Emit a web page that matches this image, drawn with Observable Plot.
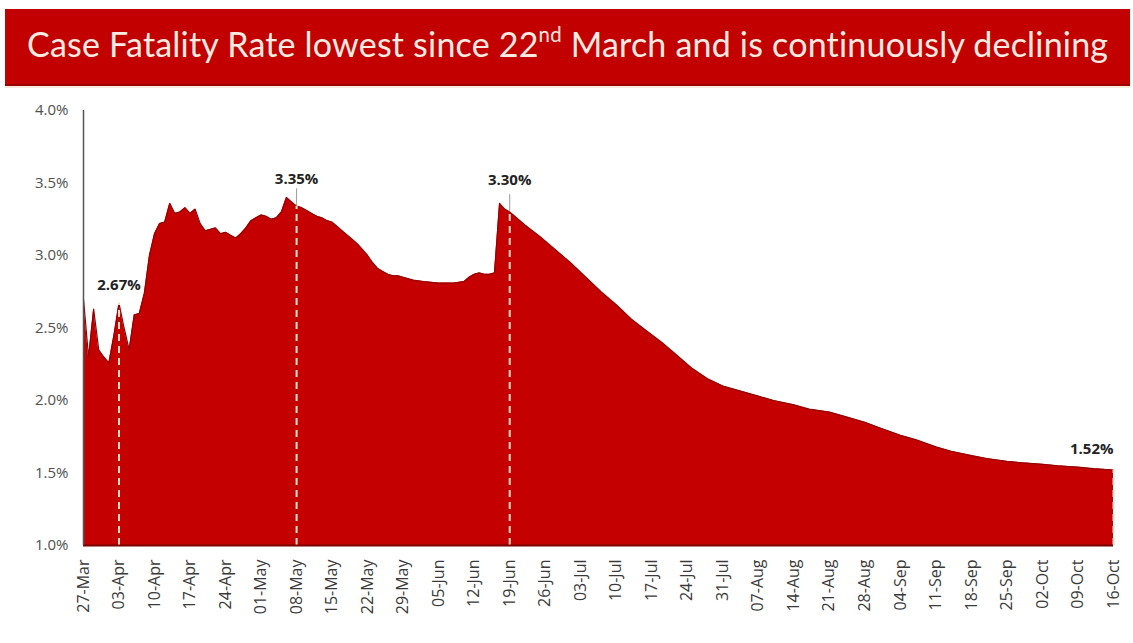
<!DOCTYPE html>
<html>
<head>
<meta charset="utf-8">
<script src="https://cdn.jsdelivr.net/npm/d3@7"></script>
<script src="https://cdn.jsdelivr.net/npm/@observablehq/plot@0.6"></script>
<style>
  html, body { margin: 0; padding: 0; background: #ffffff; }
  body { width: 1133px; height: 643px; overflow: hidden; position: relative; font-family: "Open Sans", sans-serif; }
  #title {
    position: absolute; left: 5px; top: 9px; width: 1125px; height: 75px;
    background: #c20000; border-bottom: 2px solid #9c0000;
    box-shadow: 0 2px 0 #f7e8dc;
  }
  #title span {
    position: absolute; left: 22px; top: 14px; color: #fcebe3;
    font-family: Lato, "Open Sans", sans-serif; font-size: 31px; white-space: nowrap;
    letter-spacing: 0.2px;
  }
  #title sup { font-size: 0.6em; vertical-align: 0.72em; line-height: 0; }
  #chart { position: absolute; left: 0; top: 90px; }
</style>
</head>
<body>
<div id="title"><span id="ttext">Case Fatality Rate lowest since 22<sup>nd</sup> March and is continuously declining</span></div>
<div id="chart"></div>
<script>
// ---- Data (Case Fatality Rate, %) ----
const dates = [
  "27-Mar","28-Mar","29-Mar","30-Mar","31-Mar","01-Apr","02-Apr","03-Apr","04-Apr","05-Apr",
  "06-Apr","07-Apr","08-Apr","09-Apr","10-Apr","11-Apr","12-Apr","13-Apr","14-Apr","15-Apr",
  "16-Apr","17-Apr","18-Apr","19-Apr","20-Apr","21-Apr","22-Apr","23-Apr","24-Apr","25-Apr",
  "26-Apr","27-Apr","28-Apr","29-Apr","30-Apr","01-May","02-May","03-May","04-May","05-May",
  "06-May","07-May","08-May","09-May","10-May","11-May","12-May","13-May","14-May","15-May",
  "16-May","17-May","18-May","19-May","20-May","21-May","22-May","23-May","24-May","25-May",
  "26-May","27-May","28-May","29-May","31-May","02-Jun","05-Jun","08-Jun","10-Jun","11-Jun",
  "12-Jun","13-Jun","14-Jun","15-Jun","16-Jun","17-Jun","18-Jun","19-Jun","22-Jun","25-Jun",
  "28-Jun","01-Jul","04-Jul","07-Jul","10-Jul","13-Jul","16-Jul","19-Jul","22-Jul","25-Jul",
  "28-Jul","31-Jul","04-Aug","07-Aug","10-Aug","14-Aug","17-Aug","21-Aug","24-Aug","28-Aug",
  "31-Aug","04-Sep","07-Sep","11-Sep","14-Sep","18-Sep","21-Sep","25-Sep","28-Sep","02-Oct",
  "05-Oct","09-Oct","12-Oct","16-Oct"
];
const cfr = [
  2.70,2.30,2.63,2.35,2.30,2.26,2.45,2.67,2.50,2.35,
  2.59,2.60,2.74,3.00,3.15,3.22,3.23,3.36,3.29,3.30,
  3.33,3.29,3.32,3.22,3.17,3.18,3.19,3.15,3.16,3.14,
  3.12,3.15,3.19,3.24,3.26,3.28,3.27,3.25,3.26,3.30,
  3.40,3.37,3.34,3.33,3.31,3.29,3.27,3.26,3.24,3.23,
  3.20,3.17,3.14,3.11,3.08,3.04,3.00,2.95,2.91,2.89,
  2.87,2.86,2.86,2.85,2.83,2.82,2.81,2.81,2.82,2.85,
  2.87,2.88,2.87,2.87,2.88,3.36,3.32,3.30,3.21,3.13,
  3.04,2.95,2.85,2.75,2.66,2.56,2.48,2.40,2.31,2.22,
  2.15,2.10,2.06,2.03,2.00,1.97,1.94,1.92,1.89,1.85,
  1.81,1.76,1.73,1.68,1.65,1.62,1.60,1.58,1.57,1.56,
  1.55,1.54,1.53,1.52
];
const tickLabels = [
  "27-Mar","03-Apr","10-Apr","17-Apr","24-Apr","01-May","08-May","15-May","22-May","29-May",
  "05-Jun","12-Jun","19-Jun","26-Jun","03-Jul","10-Jul","17-Jul","24-Jul","31-Jul","07-Aug",
  "14-Aug","21-Aug","28-Aug","04-Sep","11-Sep","18-Sep","25-Sep","02-Oct","09-Oct","16-Oct"
];
const yTicks = [1.0, 1.5, 2.0, 2.5, 3.0, 3.5, 4.0];
const annDates = ["03-Apr", "08-May", "19-Jun", "16-Oct"];
const annLabels = ["2.67%", "3.35%", "3.30%", "1.52%"];

// ---- Build ----
const parse = s => d3.utcParse("%d-%b-%Y")(s + "-2020");
const data = dates.map((d, i) => ({ date: parse(d), cfr: cfr[i] }));
const byDate = new Map(data.map(d => [+d.date, d.cfr]));
const ann = annDates.map((d, i) => ({ date: parse(d), v: byDate.get(+parse(d)), label: annLabels[i] }));
const tickDates = tickLabels.map(parse);

const plot = Plot.plot({
  width: 1133,
  height: 553,
  marginLeft: 83,
  marginRight: 20,
  marginTop: 20,
  marginBottom: 98,
  style: { fontFamily: "'Open Sans', sans-serif", background: "transparent", overflow: "visible" },
  x: { type: "utc", domain: [parse("27-Mar"), parse("16-Oct")] },
  y: { domain: [1, 4] },
  marks: [
    Plot.areaY(data, { x: "date", y1: 1, y2: "cfr", fill: "#c40000", curve: "linear" }),
    Plot.lineY(data, { x: "date", y: "cfr", stroke: "#960000", strokeWidth: 1.2, curve: "linear" }),
    Plot.ruleX(ann, { x: "date", y1: 1, y2: "v", stroke: "#f8dccb", strokeWidth: 2, strokeDasharray: "7,5" }),
    Plot.ruleX(ann.filter(d => d.label === "3.35%" || d.label === "3.30%"),
      { x: "date", y1: "v", y2: d => d.v + 0.12, stroke: "#9a9a9a", strokeWidth: 1 }),
    Plot.ruleY([1], { stroke: "#7a0000", strokeWidth: 2 }),
    Plot.ruleX([parse("27-Mar")], { y1: 1, y2: 4, stroke: "#555555", strokeWidth: 1.5 }),
    Plot.axisY({ ticks: yTicks, tickFormat: d => d.toFixed(1) + "%", tickSize: 0, tickPadding: 15,
      fontSize: 15, fill: "#505050", label: null }),
    Plot.axisX({ ticks: tickDates, tickFormat: d3.utcFormat("%d-%b"), tickRotate: -90, tickSize: 0,
      tickPadding: 14, fontSize: 16, fill: "#3a3a3a", label: null }),
    Plot.text(ann.filter(d => d.label === "2.67%"), { x: "date", y: "v", text: "label", dy: -18,
      fontWeight: "bold", fontSize: 15, fill: "#222222" }),
    Plot.text(ann.filter(d => d.label === "3.35%"), { x: "date", y: "v", text: "label", dy: -27,
      fontWeight: "bold", fontSize: 15, fill: "#222222" }),
    Plot.text(ann.filter(d => d.label === "3.30%"), { x: "date", y: "v", text: "label", dy: -32,
      fontWeight: "bold", fontSize: 15, fill: "#222222" }),
    Plot.text(ann.filter(d => d.label === "1.52%"), { x: "date", y: "v", text: "label", dy: -21,
      textAnchor: "end", fontWeight: "bold", fontSize: 15, fill: "#222222" })
  ]
});
document.getElementById("chart").appendChild(plot);

// fit title width to the bar as in the reference
const t = document.getElementById("ttext");
const target = 1090;
const w = t.getBoundingClientRect().width;
if (w > 0) {
  const fs = 31 * target / w;
  t.style.fontSize = Math.min(34, Math.max(26, fs)) + "px";
}
</script>
</body>
</html>
